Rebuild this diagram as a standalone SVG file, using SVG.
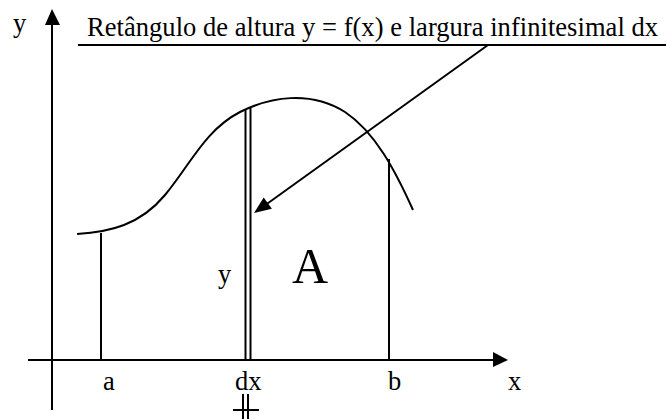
<svg xmlns="http://www.w3.org/2000/svg" width="666" height="419" viewBox="0 0 666 419">
<style>
.ln{stroke:#000;stroke-width:2;fill:none}
text{font-family:'Liberation Serif','Times New Roman',serif;fill:#000;font-size:26.5px}
.ah{fill:#000}
</style>
<rect width="666" height="419" fill="#fff"/>
<g id="axes">
<line class="ln" x1="28" y1="360" x2="495" y2="360"/>
<polygon class="ah" points="493,352 508,360 493,367"/>
<line class="ln" x1="52" y1="410" x2="52" y2="24"/>
<polygon class="ah" points="45,25 52,9 60,25"/>
<text x="13" y="32">y</text>
<text x="508" y="390">x</text>
</g>
<g id="curve">
<path class="ln" d="M77,234 C110,232 140,225 165,195 C190,165 205,130 240,112 C270,97 310,90 345,112 C375,132 395,170 413,210"/>
</g>
<g id="line-a">
<line class="ln" x1="101" y1="233" x2="101" y2="360"/>
<text x="103" y="390">a</text>
</g>
<g id="line-b">
<line class="ln" x1="389" y1="159" x2="389" y2="360"/>
<text x="388" y="390">b</text>
</g>
<g id="rectangle">
<line class="ln" x1="245.5" y1="110" x2="245.5" y2="360"/>
<line class="ln" x1="250.5" y1="108" x2="250.5" y2="360"/>
<text x="218" y="283">y</text>
<text x="235" y="390">dx</text>
<line class="ln" x1="243" y1="394" x2="243" y2="419"/>
<line class="ln" x1="248" y1="394" x2="248" y2="419"/>
<line class="ln" x1="233" y1="410" x2="259" y2="410"/>
</g>
<g id="area">
<text x="292" y="283" style="font-size:50px">A</text>
</g>
<g id="label">
<text x="87" y="36" textLength="571" lengthAdjust="spacing">Retângulo de altura y = f(x) e largura infinitesimal dx</text>
<line class="ln" x1="78" y1="45" x2="666" y2="45"/>
</g>
<g id="connectors">
<line class="ln" x1="488" y1="45" x2="264" y2="206"/>
<polygon class="ah" points="254,213 263.7,197.4 271.9,208.8"/>
</g>
</svg>
